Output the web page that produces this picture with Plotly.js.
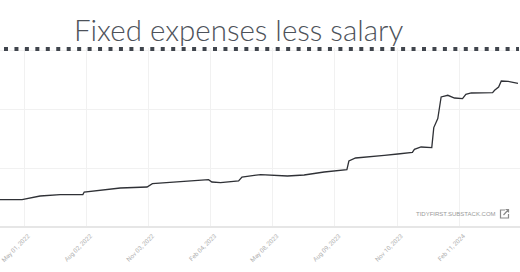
<!DOCTYPE html>
<html>
<head>
<meta charset="utf-8">
<script src="https://cdn.plot.ly/plotly-3.0.1.min.js"></script>
<style>html,body{margin:0;padding:0;background:#fff;}#chart{width:520px;height:272px;}</style>
</head>
<body>
<div id="chart"></div>
<script>
// Data (units are estimates)
const dates = [
  "2022-03-26","2022-04-28","2022-05-25","2022-06-24","2022-07-28","2022-07-30",
  "2022-09-22","2022-11-01","2022-11-09","2022-12-31","2023-02-01","2023-02-06",
  "2023-02-19","2023-03-18","2023-03-23","2023-04-20","2023-05-30","2023-06-24",
  "2023-07-24","2023-08-27","2023-08-30","2023-09-09","2023-09-27","2023-10-22",
  "2023-11-11","2023-12-03","2023-12-06","2023-12-16","2024-01-01","2024-01-04",
  "2024-01-10","2024-01-15","2024-01-25","2024-02-04","2024-02-16","2024-02-21",
  "2024-02-29","2024-04-01","2024-04-04","2024-04-10","2024-04-14","2024-04-24",
  "2024-05-09"
];
const values = [
  4644,4644,5254,5492,5492,5932,
  6610,6780,7356,7746,8034,7627,
  7526,7797,8475,8882,8644,8814,
  9322,9729,11187,11696,11933,12153,
  12374,12662,13170,13560,13458,16848,
  18374,22035,22323,21866,21764,22493,
  22713,22781,23171,23730,24747,24696,
  24357
];
const chartTitle = "Fixed expenses less salary";
const watermark = "TIDYFIRST.SUBSTACK.COM";
const firstTick = "2022-05-01";
const tickStepDays = 93;

const W = 520, H = 272, mT = 48, mB = 45;
const plotH = H - mT - mB;
const px = x => x / W;
const py = y => (H - mB - y) / plotH;

const trace = {
  x: dates, y: values, type: "scatter", mode: "lines",
  line: {color: "#2f3136", width: 1.3, shape: "linear"},
  hoverinfo: "skip"
};

const iconPath =
  "M " + px(505) + "," + py(210) + " L " + px(500.5) + "," + py(210) +
  " L " + px(500.5) + "," + py(218) + " L " + px(508.5) + "," + py(218) +
  " L " + px(508.5) + "," + py(214) +
  " M " + px(503.5) + "," + py(215) + " L " + px(508.5) + "," + py(209.5) +
  " M " + px(505.5) + "," + py(209.5) + " L " + px(508.5) + "," + py(209.5) +
  " L " + px(508.5) + "," + py(212.5);

const layout = {
  width: W, height: H,
  margin: {l: 0, r: 0, t: mT, b: mB, pad: 0},
  paper_bgcolor: "#ffffff", plot_bgcolor: "#ffffff",
  showlegend: false,
  title: {
    text: chartTitle,
    font: {family: "Lato, 'Open Sans', sans-serif", size: 29.5, color: "#4d525a", weight: 300},
    xref: "container", yref: "container",
    x: 74 / W, xanchor: "left",
    y: 1 - 31 / H, yanchor: "middle"
  },
  xaxis: {
    type: "date",
    range: ["2022-03-26", "2024-05-12"],
    tick0: firstTick, dtick: tickStepDays * 86400000,
    tickformat: "%b %d, %Y",
    tickangle: -45,
    ticklabeloverflow: "allow",
    ticklabelshift: 4,
    tickfont: {family: "Roboto, 'Liberation Sans', sans-serif", size: 6.2, color: "#b0b0b0"},
    showgrid: true, gridcolor: "#f1f1f1", gridwidth: 1,
    showline: false, zeroline: false, ticks: "outside", ticklen: 2, tickcolor: "rgba(0,0,0,0)",
    fixedrange: true
  },
  yaxis: {
    range: [0, 30339],
    dtick: 10000,
    showticklabels: false,
    showgrid: true, gridcolor: "#f1f1f1", gridwidth: 1,
    zeroline: true, zerolinecolor: "#e6e6e6", zerolinewidth: 2,
    showline: false, ticks: "",
    fixedrange: true
  },
  shapes: [
    {
      type: "line", xref: "paper", yref: "paper",
      x0: px(4), x1: px(519), y0: py(49), y1: py(49),
      line: {color: "#40454d", width: 4, dash: "4px,6.45px"}
    },
    {
      type: "path", xref: "paper", yref: "paper", path: iconPath,
      line: {color: "#8a8a8a", width: 1.2}
    }
  ],
  annotations: [
    {
      text: watermark, xref: "paper", yref: "paper",
      x: px(497.5), y: py(214), xanchor: "right", yanchor: "middle",
      showarrow: false,
      font: {family: "'Liberation Sans', sans-serif", size: 6, color: "#999999"}
    }
  ]
};

Plotly.newPlot("chart", [trace], layout, {staticPlot: true, displayModeBar: false});
</script>
</body>
</html>
